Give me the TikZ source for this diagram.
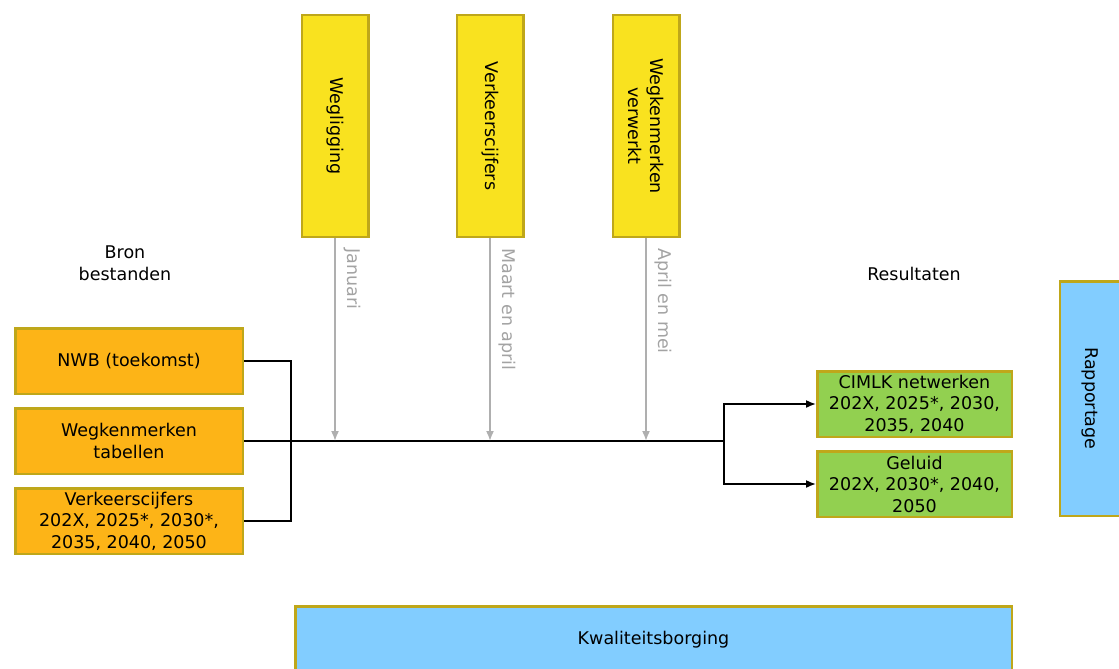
\documentclass[tikz,border=0pt]{standalone}
\usepackage{fontspec}
\setmainfont{DejaVu Sans}
\usetikzlibrary{positioning, arrows.meta}
\definecolor{rimolive}{HTML}{BFA71A}
\definecolor{boxyellow}{HTML}{F9E21F}
\definecolor{boxorange}{HTML}{FDB417}
\definecolor{boxgreen}{HTML}{92D050}
\definecolor{boxblue}{HTML}{82CDFF}
\definecolor{linegray}{HTML}{AFAFAF}
\definecolor{labelgray}{HTML}{A3A3A3}

\begin{document}
\begin{tikzpicture}[x=1pt, y=-1pt, node distance=12pt]
            % Define styles
            \tikzstyle{base} = [rectangle, draw=rimolive, line width=2.5pt, inner sep=0pt, align=center, font=\fontsize{17.5}{21.5}\selectfont]
            \tikzstyle{invoer} = [base, fill=boxyellow, rotate=-90, minimum width=221.5pt, minimum height=66.5pt]
            \tikzstyle{bron} = [base, fill=boxorange, minimum width=227.5pt, minimum height=65.5pt]
            \tikzstyle{resultaat} = [base, fill=boxgreen, minimum width=194.5pt, minimum height=65.5pt]
            \tikzstyle{kader} = [base, fill=boxblue]
            \tikzstyle{kop} = [align=center, inner sep=0pt, font=\fontsize{17.5}{21.5}\selectfont]
            \tikzstyle{maand} = [rotate=-90, anchor=south west, inner sep=0pt, text=labelgray, font=\fontsize{17.5}{21.5}\selectfont]
            \tikzstyle{line} = [line width=1.6pt]
            \tikzstyle{arrow} = [line, -{Latex[length=10pt, width=8pt]}]
            \tikzstyle{grayarrow} = [arrow, draw=linegray]

            \clip (0,0) rectangle (1119,669);

            % Input steps (top)
            \node (wegligging) [invoer] at (335,126) {Wegligging};
            \node (verkeer) [invoer] at (490,126) {Verkeerscijfers};
            \node (kenmerken) [invoer] at (646,126) {Wegkenmerken\\verwerkt};

            % Source files (left side)
            \node (kop_bron) [kop] at (125,263) {Bron\\bestanden};
            \node (nwb) [bron] at (129,361) {NWB (toekomst)};
            \node (tabellen) [bron, below=of nwb] {Wegkenmerken\\tabellen};
            \node (cijfers) [bron, below=of tabellen] {Verkeerscijfers\\202X, 2025*, 2030*,\\2035, 2040, 2050};

            % Results (right side)
            \node (kop_res) [kop] at (914,274) {Resultaten};
            \node (cimlk) [resultaat] at (914.5,404) {CIMLK netwerken\\202X, 2025*, 2030,\\2035, 2040};
            \node (geluid) [resultaat, below=of cimlk] {Geluid\\202X, 2030*, 2040,\\2050};
            \node (rapportage) [kader, rotate=-90, minimum width=234.5pt, minimum height=60pt] at (1090,398.5) {Rapportage};

            % Quality (bottom)
            \node (borging) [kader, minimum width=716.5pt, minimum height=66pt] at (653.5,639.25) {Kwaliteitsborging};

            % Junctions
            \path (tabellen.east) ++(47,0) coordinate (merge);
            \path (tabellen.east) ++(480,0) coordinate (split);

            % Source arrows
            \draw [line] (nwb.east) -| (merge) |- (cijfers.east);
            \draw [line] (tabellen.east) -- (split);
            \draw [arrow] (split) |- (cimlk.west);
            \draw [arrow] (split) |- (geluid.west);

            % Timing arrows
            \draw [grayarrow] (wegligging.east) -- (wegligging.east |- split);
            \draw [grayarrow] (verkeer.east) -- (verkeer.east |- split);
            \draw [grayarrow] (kenmerken.east) -- (kenmerken.east |- split);
            \node [maand] at ([xshift=9pt, yshift=-10pt]wegligging.east) {Januari};
            \node [maand] at ([xshift=9pt, yshift=-10pt]verkeer.east) {Maart en april};
            \node [maand] at ([xshift=9pt, yshift=-10pt]kenmerken.east) {April en mei};

      \end{tikzpicture}
\end{document}
